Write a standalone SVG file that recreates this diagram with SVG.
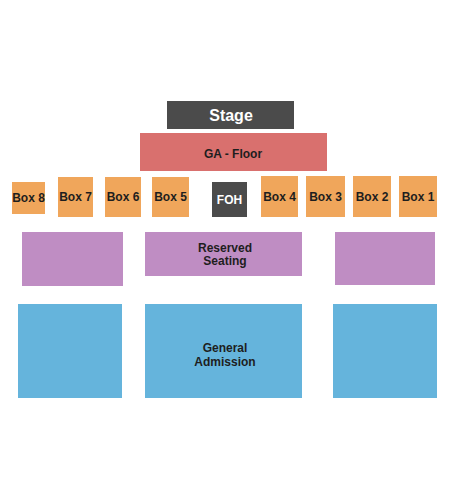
<svg xmlns="http://www.w3.org/2000/svg" width="450" height="500" viewBox="0 0 450 500">
<style>
text{font-family:"Liberation Sans",Arial,sans-serif;font-weight:bold;text-anchor:middle;fill:#1e1e1e}
.box{fill:#f0a65b}
.res{fill:#bf8dc3}
.ga{fill:#65b4dc}
.lbl{font-size:12px}
</style>
<rect width="450" height="500" fill="#fff"/>
<g id="stage"><rect x="167" y="101" width="127" height="28" fill="#4b4b4b"/><text x="231" y="121" style="font-size:16px;fill:#fff">Stage</text></g>
<g id="ga-floor"><rect x="140" y="133" width="187" height="38" fill="#d9706e"/><text x="233" y="158" class="lbl">GA - Floor</text></g>
<g id="box8"><rect class="box" x="12" y="182" width="33" height="32"/><text x="28.5" y="202" class="lbl">Box 8</text></g>
<g id="box7"><rect class="box" x="58" y="177" width="35" height="40"/><text x="75.5" y="201" class="lbl">Box 7</text></g>
<g id="box6"><rect class="box" x="105" y="177" width="36" height="40"/><text x="123" y="201" class="lbl">Box 6</text></g>
<g id="box5"><rect class="box" x="152" y="177" width="37" height="40"/><text x="170.5" y="201" class="lbl">Box 5</text></g>
<g id="foh"><rect x="212" y="182" width="35" height="35" fill="#4b4b4b"/><text x="229.5" y="204" class="lbl" style="fill:#fff">FOH</text></g>
<g id="box4"><rect class="box" x="261" y="176" width="37" height="41"/><text x="279.5" y="201" class="lbl">Box 4</text></g>
<g id="box3"><rect class="box" x="306" y="176" width="39" height="41"/><text x="325.5" y="201" class="lbl">Box 3</text></g>
<g id="box2"><rect class="box" x="353" y="176" width="38" height="41"/><text x="372" y="201" class="lbl">Box 2</text></g>
<g id="box1"><rect class="box" x="399" y="176" width="38" height="41"/><text x="418" y="201" class="lbl">Box 1</text></g>
<g id="res-left"><rect class="res" x="22" y="232" width="101" height="54"/></g>
<g id="res-center"><rect class="res" x="145" y="232" width="157" height="44"/><text x="225" y="252" class="lbl">Reserved</text><text x="225" y="265" class="lbl">Seating</text></g>
<g id="res-right"><rect class="res" x="335" y="232" width="100" height="53"/></g>
<g id="ga-left"><rect class="ga" x="18" y="304" width="104" height="94"/></g>
<g id="ga-center"><rect class="ga" x="145" y="304" width="157" height="94"/><text x="225" y="352" class="lbl">General</text><text x="225" y="366" class="lbl">Admission</text></g>
<g id="ga-right"><rect class="ga" x="333" y="304" width="104" height="94"/></g>
<g id="connectors"/>
</svg>
